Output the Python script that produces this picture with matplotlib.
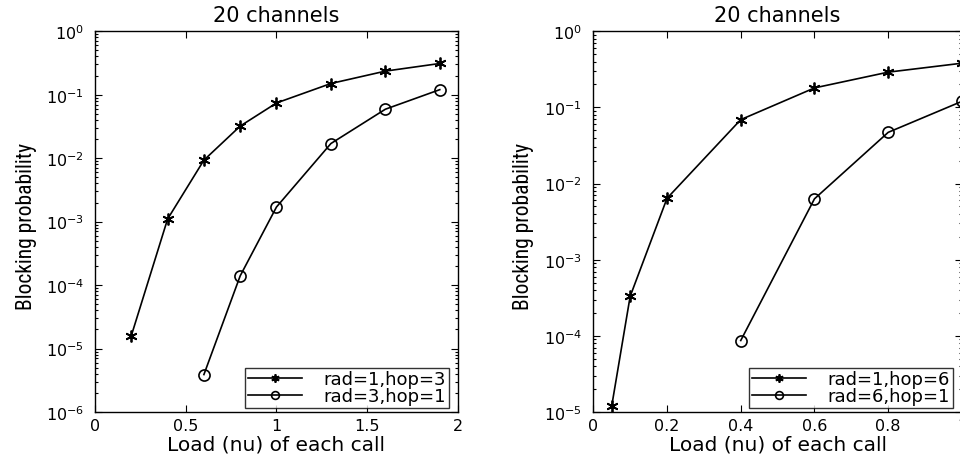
import matplotlib
matplotlib.use("Agg")
import matplotlib.pyplot as plt
from matplotlib import font_manager
from matplotlib.ticker import LogLocator, NullFormatter, FixedLocator

plt.rcParams['font.family'] = ['DejaVu Sans']
plt.rcParams['mathtext.fontset'] = 'dejavusans'

# Left panel: 20 channels, radius/hop trade-off 3
load_a = [0.2, 0.4, 0.6, 0.8, 1.0, 1.3, 1.6, 1.9]
block_r1h3 = [1.6e-5, 1.1e-3, 9.3e-3, 0.032, 0.074, 0.15, 0.235, 0.31]
load_a2 = [0.6, 0.8, 1.0, 1.3, 1.6, 1.9]
block_r3h1 = [3.9e-6, 1.4e-4, 1.7e-3, 0.017, 0.059, 0.12]

# Right panel: 20 channels, radius/hop trade-off 6
load_b = [0.05, 0.1, 0.2, 0.4, 0.6, 0.8, 1.0]
block_r1h6 = [1.2e-5, 3.3e-4, 6.4e-3, 0.069, 0.18, 0.29, 0.38]
load_b2 = [0.4, 0.6, 0.8, 1.0]
block_r6h1 = [8.7e-5, 6.3e-3, 0.047, 0.12]

title = "20 channels"
xlabel = "Load (nu) of each call"
ylabel = "Blocking probability"

# narrow face for the vertical label, if one is available
installed = {f.name for f in font_manager.fontManager.ttflist}
narrow = [n for n in ('Liberation Sans Narrow', 'Roboto Condensed',
                      'Open Sans Condensed', 'DejaVu Sans Condensed')
          if n in installed]
ylabel_family = narrow[:1] + ['Liberation Sans']

fig = plt.figure(figsize=(9.6, 4.6), dpi=100)
axL = fig.add_axes([0.099, 0.102, 0.378, 0.828])
axR = fig.add_axes([0.618, 0.102, 0.384, 0.828])

star = (6, 2, 0)


def style(ax, ylim, xlim, xticks, xticklabels):
    ax.set_yscale('log')
    ax.set_ylim(*ylim)
    ax.set_xlim(*xlim)
    ax.xaxis.set_major_locator(FixedLocator(xticks))
    ax.set_xticklabels(xticklabels)
    ax.yaxis.set_major_locator(LogLocator(base=10, numticks=20))
    ax.yaxis.set_minor_locator(LogLocator(base=10, subs=range(2, 10), numticks=20))
    ax.yaxis.set_minor_formatter(NullFormatter())
    ax.tick_params(which='both', direction='in', top=True, right=True,
                   labelsize=11.5, width=0.8, colors='black')
    ax.tick_params(which='major', length=5)
    ax.tick_params(which='minor', length=2.5)
    ax.tick_params(axis='x', pad=4)
    ax.tick_params(axis='y', pad=8)
    for s in ax.spines.values():
        s.set_linewidth(1.0)
    ax.set_title(title, fontsize=15, pad=7)
    ax.set_xlabel(xlabel, fontsize=14.5)
    ax.xaxis.set_label_coords(0.5, -0.058)
    ax.set_ylabel(ylabel, fontsize=15.5, family=ylabel_family)
    ax.yaxis.set_label_coords(-0.16, 0.49)


axL.plot(load_a, block_r1h3, color='black', lw=1.2, marker=star, ms=8.5,
         mew=1.3, label='rad=1,hop=3')
axL.plot(load_a2, block_r3h1, color='black', lw=1.2, marker='o', ms=8,
         mfc='none', mew=1.2, label='rad=3,hop=1')
style(axL, (1e-6, 1), (0, 2), [0, 0.5, 1, 1.5, 2], ['0', '0.5', '1', '1.5', '2'])

axR.plot(load_b, block_r1h6, color='black', lw=1.2, marker=star, ms=8.5,
         mew=1.3, label='rad=1,hop=6')
axR.plot(load_b2, block_r6h1, color='black', lw=1.2, marker='o', ms=8,
         mfc='none', mew=1.2, label='rad=6,hop=1')
style(axR, (1e-5, 1), (0, 1), [0, 0.2, 0.4, 0.6, 0.8, 1],
      ['0', '0.2', '0.4', '0.6', '0.8', '1'])

for ax in (axL, axR):
    w = ax.get_position().width * 960
    h = ax.get_position().height * 460
    leg = ax.legend(loc='lower right', bbox_to_anchor=(1 - 9 / w, 4 / h),
                    fontsize=13, frameon=True, fancybox=False,
                    borderaxespad=0.0, handlelength=3.0, borderpad=0.15,
                    labelspacing=-0.05, handletextpad=1.2, markerscale=0.7)
    leg.get_frame().set_edgecolor('black')
    leg.get_frame().set_linewidth(1.0)

fig.savefig('out.png', dpi=100)
